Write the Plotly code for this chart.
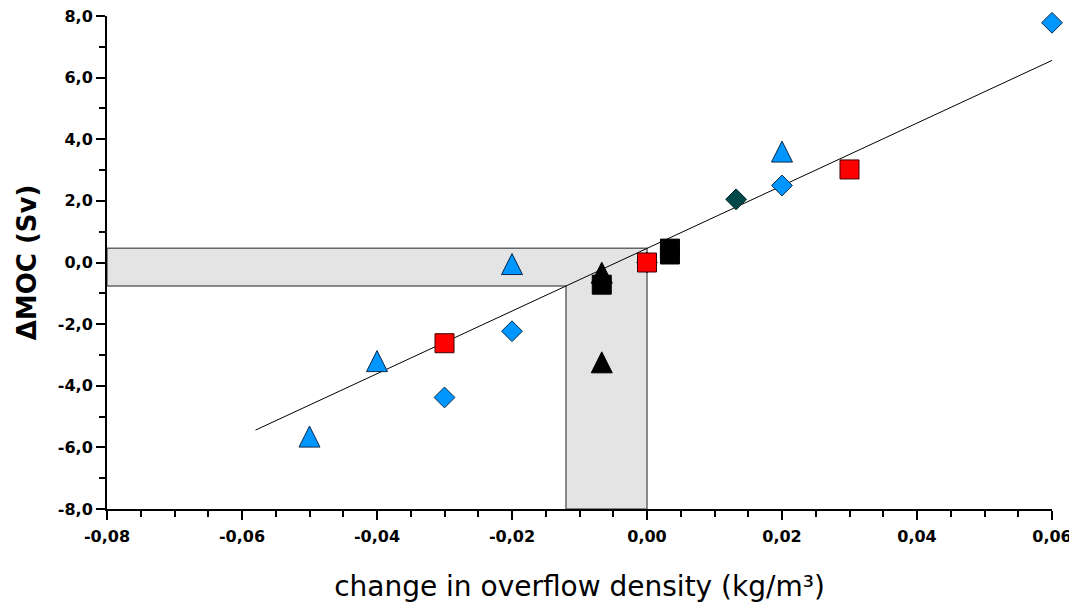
import plotly.graph_objects as go

# ---- data ----
blue_tri_x = [-0.05, -0.04, -0.02, 0.02]
blue_tri_y = [-5.65, -3.2, -0.05, 3.6]

blue_dia_x = [-0.03, -0.02, 0.02, 0.06]
blue_dia_y = [-4.38, -2.23, 2.5, 7.78]

dark_dia_x = [0.0, 0.0132]
dark_dia_y = [0.0, 2.05]

red_sq_x = [-0.03, 0.0, 0.03]
red_sq_y = [-2.62, 0.0, 3.02]

black_tri_x = [-0.0067, -0.0067]
black_tri_y = [-0.33, -3.24]

black_sq_x = [-0.0067, 0.0034, 0.0034]
black_sq_y = [-0.72, 0.45, 0.26]

fit_x = [-0.058, 0.061]
fit_y = [-5.44, 6.66]

band_x = [-0.08, 0.0, 0.0, -0.012, -0.012, -0.08, -0.08]
band_y = [0.46, 0.46, -8.0, -8.0, -0.76, -0.76, 0.46]

x_tick_vals = [-0.08, -0.06, -0.04, -0.02, 0.0, 0.02, 0.04, 0.06]
x_tick_text = ["-0,08", "-0,06", "-0,04", "-0,02", "0,00", "0,02", "0,04", "0,06"]
y_tick_vals = [-8, -6, -4, -2, 0, 2, 4, 6, 8]
y_tick_text = ["-8,0", "-6,0", "-4,0", "-2,0", "0,0", "2,0", "4,0", "6,0", "8,0"]

BLUE = "#0096ff"
RED = "#ff0000"
DARK = "#004848"
FONT = "DejaVu Sans"

fig = go.Figure()

fig.add_trace(go.Scatter(x=band_x, y=band_y, mode="lines", fill="toself",
                         fillcolor="#e4e4e4", line=dict(color="#666666", width=1.5),
                         hoverinfo="skip", showlegend=False))
fig.add_trace(go.Scatter(x=fit_x, y=fit_y, mode="lines",
                         line=dict(color="black", width=1), showlegend=False))

TRI = dict(symbol="arrow-down", angle=180, size=21, standoff=10.5)

fig.add_trace(go.Scatter(x=blue_tri_x, y=blue_tri_y, mode="markers", showlegend=False,
                         cliponaxis=False,
                         marker=dict(color=BLUE, line=dict(color="#0a2a4a", width=1), **TRI)))
fig.add_trace(go.Scatter(x=blue_dia_x, y=blue_dia_y, mode="markers", showlegend=False,
                         cliponaxis=False,
                         marker=dict(symbol="diamond", size=16, color=BLUE,
                                     line=dict(color="#0a2a4a", width=1))))
fig.add_trace(go.Scatter(x=dark_dia_x, y=dark_dia_y, mode="markers", showlegend=False,
                         cliponaxis=False,
                         marker=dict(symbol="diamond", size=16, color=DARK,
                                     line=dict(color="#002222", width=1))))
fig.add_trace(go.Scatter(x=black_tri_x, y=black_tri_y, mode="markers", showlegend=False,
                         cliponaxis=False,
                         marker=dict(color="black", line=dict(color="black", width=1), **TRI)))
fig.add_trace(go.Scatter(x=black_sq_x, y=black_sq_y, mode="markers", showlegend=False,
                         cliponaxis=False,
                         marker=dict(symbol="square", size=19, color="black",
                                     line=dict(color="black", width=1))))
fig.add_trace(go.Scatter(x=red_sq_x, y=red_sq_y, mode="markers", showlegend=False,
                         cliponaxis=False,
                         marker=dict(symbol="square", size=19, color=RED,
                                     line=dict(color="#400000", width=1))))

tickfont = dict(family=FONT, size=16, color="black", weight="bold")

# page body has an 8px default margin, so the figure is sized/offset to compensate
fig.update_layout(
    template="none",
    width=1069, height=595,
    margin=dict(l=99, r=25, t=8, b=94),
    paper_bgcolor="white", plot_bgcolor="white",
    font=dict(family=FONT, color="black"),
    xaxis=dict(range=[-0.08, 0.06], tickvals=x_tick_vals, ticktext=x_tick_text,
               automargin=False, ticklabelstandoff=3, ticklabeloverflow="allow",
               tickfont=tickfont, showgrid=False, zeroline=False,
               showline=True, linecolor="black", linewidth=2,
               ticks="outside", ticklen=9, tickwidth=1.5, tickcolor="black",
               minor=dict(dtick=0.005, tick0=0, ticks="outside", ticklen=6,
                          tickwidth=1.5, tickcolor="black", showgrid=False),
               title=dict(text="change in overflow density (kg/m³)",
                          font=dict(family=FONT, size=28, color="black"), standoff=35)),
    yaxis=dict(range=[-8, 8], tickvals=y_tick_vals, ticktext=y_tick_text,
               automargin=False, ticklabeloverflow="allow",
               tickfont=tickfont, showgrid=False, zeroline=False,
               showline=True, linecolor="black", linewidth=2,
               ticks="outside", ticklen=9, tickwidth=1.5, tickcolor="black",
               minor=dict(dtick=1, tick0=0, ticks="outside", ticklen=6,
                          tickwidth=1.5, tickcolor="black", showgrid=False),
               title=dict(text="ΔMOC (Sv)",
                          font=dict(family=FONT, size=26, color="black", weight="bold"),
                          standoff=14)),
)

fig.write_html("out.html")
